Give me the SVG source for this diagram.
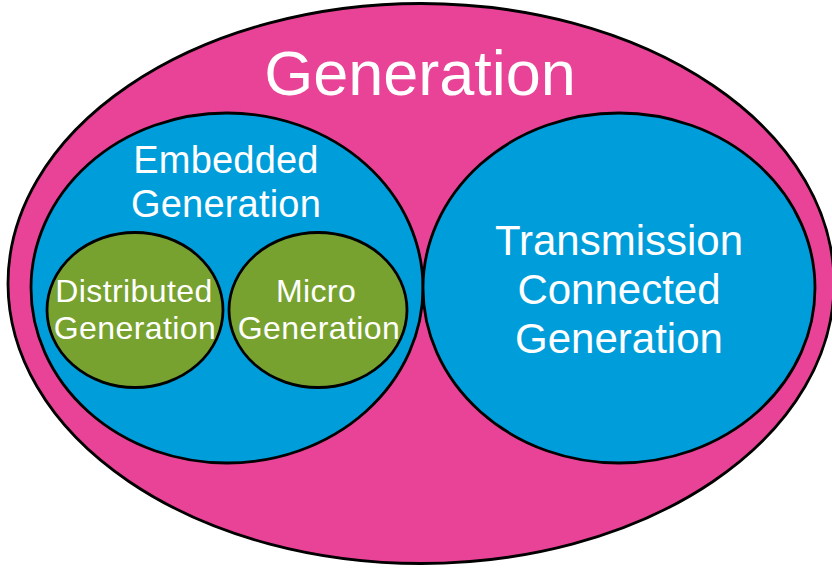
<svg xmlns="http://www.w3.org/2000/svg" width="832" height="568" viewBox="0 0 832 568">
  <style>
    .ring { stroke: #000; stroke-width: 2.8; }
    .pink { fill: #E84396; }
    .blue { fill: #009DDB; }
    .green { fill: #78A22F; }
    text { font-family: "Liberation Sans", Arial, Helvetica, sans-serif; fill: #fff; text-anchor: middle; }
    .small { font-size: 32px; letter-spacing: 0.4px; }
  </style>
  <rect width="832" height="568" fill="#fff"/>

  <!-- Outer set: all generation -->
  <g id="generation">
    <ellipse class="ring pink" cx="421" cy="283.5" rx="413" ry="280"/>
    <text x="420" y="95" font-size="63">Generation</text>
  </g>

  <!-- Embedded generation set -->
  <g id="embedded">
    <ellipse class="ring blue" cx="227" cy="288" rx="196" ry="175"/>
    <text x="226" y="173" font-size="38" letter-spacing="0.2">Embedded</text>
    <text x="226" y="217" font-size="38" letter-spacing="0.2">Generation</text>
  </g>

  <!-- Transmission connected set -->
  <g id="transmission">
    <ellipse class="ring blue" cx="619" cy="288" rx="196" ry="175"/>
    <text x="619" y="255" font-size="42">Transmission</text>
    <text x="619" y="304" font-size="42">Connected</text>
    <text x="619" y="353" font-size="42">Generation</text>
  </g>

  <!-- Subsets of embedded generation -->
  <g id="distributed">
    <ellipse class="ring green" cx="135" cy="310" rx="88" ry="77.5"/>
    <text class="small" x="134" y="302">Distributed</text>
    <text class="small" x="135" y="339">Generation</text>
  </g>

  <g id="micro">
    <ellipse class="ring green" cx="318" cy="310" rx="89" ry="77.5"/>
    <text class="small" x="316" y="302">Micro</text>
    <text class="small" x="319" y="339">Generation</text>
  </g>

  <g id="connectors"></g>
</svg>
